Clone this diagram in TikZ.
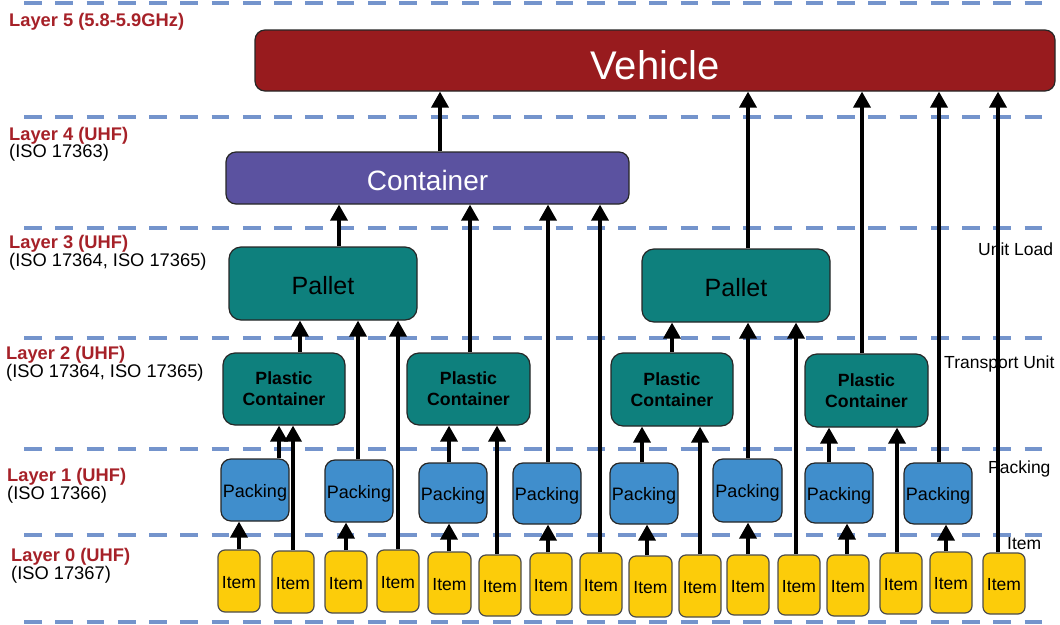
\documentclass[tikz,border=0pt]{standalone}
\usepackage{fontspec}
\setmainfont{Liberation Sans}
\usetikzlibrary{arrows.meta}
\definecolor{vehred}{RGB}{152,27,30}
\definecolor{contpurple}{RGB}{91,82,160}
\definecolor{tealbox}{RGB}{14,128,125}
\definecolor{packblue}{RGB}{64,142,204}
\definecolor{itemyellow}{RGB}{252,204,10}
\definecolor{labred}{RGB}{166,33,40}
\definecolor{dashblue}{RGB}{116,148,204}
\newcommand{\mkbox}[7]{%
  \pgfmathsetmacro{\mkbw}{#5-#3}\pgfmathsetmacro{\mkbh}{#6-#4}%
  \pgfmathsetmacro{\mkcx}{(#3+#5)/2}\pgfmathsetmacro{\mkcy}{(#4+#6)/2}%
  \node[#2, minimum width=\mkbw pt, minimum height=\mkbh pt] (#1) at (\mkcx,\mkcy) {#7};}
\newcommand{\arrv}[3]{\draw[arr] (#1,0 |- #2.north) -- (#1,0 |- #3.south);}
\begin{document}
\begin{tikzpicture}[x=1pt,y=-1pt,
  dashln/.style={line width=4pt, draw=dashblue, dash pattern=on 17.7pt off 13.57pt},
  arr/.style={line width=3.5pt, draw=black, -{Triangle[width=17pt,length=16pt]}},
  boxbase/.style={draw=black!85, line width=1.2pt, inner sep=0pt},
  vehbox/.style={boxbase, fill=vehred, rounded corners=10pt, text=white, text height=37pt, text depth=0pt, font=\fontsize{40}{44}\selectfont},
  contbox/.style={boxbase, fill=contpurple, rounded corners=10pt, text=white, text height=25pt, text depth=0pt, font=\fontsize{28}{30}\selectfont},
  palbox/.style={boxbase, fill=tealbox, rounded corners=12pt, text height=21.5pt, text depth=0pt, font=\fontsize{25}{28}\selectfont},
  pcbox/.style={boxbase, fill=tealbox, rounded corners=12pt, align=center, font=\fontsize{17.7}{21}\selectfont\bfseries},
  packbox/.style={boxbase, fill=packblue, rounded corners=10pt, text height=14pt, text depth=0pt, font=\fontsize{18}{20}\selectfont},
  itembox/.style={boxbase, draw=black!70, fill=itemyellow, rounded corners=7pt, text height=14pt, text depth=0pt, font=\fontsize{17.5}{20}\selectfont},
  laylab/.style={anchor=base west, inner sep=0pt, text=labred, font=\fontsize{18.3}{20}\selectfont\bfseries},
  isolab/.style={anchor=base west, inner sep=0pt, font=\fontsize{18.3}{20}\selectfont},
  sidelab/.style={anchor=base west, inner sep=0pt, font=\fontsize{17.5}{19}\selectfont}
]
\useasboundingbox (0,0) rectangle (1060,624);
% dashed layer separators
\foreach \yy in {3,117,228,338,449,535,622} {\draw[dashln] (24,\yy) -- (1045,\yy);}
% left labels
\node[laylab] (l5) at (9,26) {Layer 5 (5.8-5.9GHz)};
\node[laylab] (l4) at (9,140) {Layer 4 (UHF)};
\node[isolab] (i4) at (9,157.5) {(ISO 17363)};
\node[laylab] (l3) at (9,248) {Layer 3 (UHF)};
\node[isolab] (i3) at (9,266) {(ISO 17364, ISO 17365)};
\node[laylab] (l2) at (6,359) {Layer 2 (UHF)};
\node[isolab] (i2) at (6,377) {(ISO 17364, ISO 17365)};
\node[laylab] (l1) at (7,481) {Layer 1 (UHF)};
\node[isolab] (i1) at (7,499.5) {(ISO 17366)};
\node[laylab] (l0) at (11,561) {Layer 0 (UHF)};
\node[isolab] (i0) at (11,579) {(ISO 17367)};
% right labels
\node[sidelab] (r3) at (978,255) {Unit Load};
\node[sidelab] (r2) at (944,368) {Transport Unit};
\node[sidelab] (r1) at (988,473) {Packing};
\node[sidelab] (r0) at (1007,549) {Item};
% boxes
\mkbox{V}{vehbox}{255}{30}{1055}{91}{Vehicle}
\mkbox{C}{contbox}{226}{152}{629}{204}{Container}
\mkbox{PL1}{palbox}{229}{247}{417}{320}{Pallet}
\mkbox{PL2}{palbox}{642}{249}{830}{322}{Pallet}
\mkbox{PC1}{pcbox}{223}{353}{345}{425}{Plastic\\Container}
\mkbox{PC2}{pcbox}{407}{353}{530}{425}{Plastic\\Container}
\mkbox{PC3}{pcbox}{611}{353}{733}{426}{Plastic\\Container}
\mkbox{PC4}{pcbox}{805}{354}{928}{427}{Plastic\\Container}
\mkbox{P1}{packbox}{221}{459}{289}{521}{Packing}
\mkbox{P2}{packbox}{325}{460}{393}{522}{Packing}
\mkbox{P3}{packbox}{419}{463}{487}{523}{Packing}
\mkbox{P4}{packbox}{513}{463}{581}{524}{Packing}
\mkbox{P5}{packbox}{610}{463}{678}{524}{Packing}
\mkbox{P6}{packbox}{713}{459}{782}{522}{Packing}
\mkbox{P7}{packbox}{805}{463}{873}{523}{Packing}
\mkbox{P8}{packbox}{904}{463}{972}{524}{Packing}
\mkbox{I1}{itembox}{218}{550}{260}{612}{Item}
\mkbox{I2}{itembox}{272}{551}{314}{613}{Item}
\mkbox{I3}{itembox}{325}{551}{367}{613}{Item}
\mkbox{I4}{itembox}{377}{550}{419}{612}{Item}
\mkbox{I5}{itembox}{428}{552}{471}{614}{Item}
\mkbox{I6}{itembox}{479}{555}{521}{616}{Item}
\mkbox{I7}{itembox}{530}{553}{572}{615}{Item}
\mkbox{I8}{itembox}{580}{553}{622}{615}{Item}
\mkbox{I9}{itembox}{629}{556}{672}{617}{Item}
\mkbox{I10}{itembox}{679}{555}{721}{617}{Item}
\mkbox{I11}{itembox}{727}{555}{769}{615}{Item}
\mkbox{I12}{itembox}{778}{555}{820}{615}{Item}
\mkbox{I13}{itembox}{827}{555}{869}{616}{Item}
\mkbox{I14}{itembox}{880}{553}{922}{614}{Item}
\mkbox{I15}{itembox}{930}{552}{972}{613}{Item}
\mkbox{I16}{itembox}{983}{553}{1025}{614}{Item}
% arrows
\arrv{239}{I1}{P1}
\arrv{293}{I2}{PC1}
\arrv{279}{P1}{PC1}
\arrv{346}{I3}{P2}
\arrv{358}{P2}{PL1}
\arrv{398}{I4}{PL1}
\arrv{300}{PC1}{PL1}
\arrv{339}{PL1}{C}
\arrv{449}{I5}{P3}
\arrv{449}{P3}{PC2}
\arrv{497}{I6}{PC2}
\arrv{470}{PC2}{C}
\arrv{548}{I7}{P4}
\arrv{548}{P4}{C}
\arrv{600}{I8}{C}
\arrv{647}{I9}{P5}
\arrv{642}{P5}{PC3}
\arrv{700}{I10}{PC3}
\arrv{672}{PC3}{PL2}
\arrv{748}{PL2}{V}
\arrv{748}{P6}{PL2}
\arrv{748}{I11}{P6}
\arrv{796}{I12}{PL2}
\arrv{847}{I13}{P7}
\arrv{829}{P7}{PC4}
\arrv{897}{I14}{PC4}
\arrv{946}{I15}{P8}
\arrv{939}{P8}{V}
\arrv{998}{I16}{V}
\arrv{862}{PC4}{V}
\arrv{440}{C}{V}
\end{tikzpicture}
\end{document}
